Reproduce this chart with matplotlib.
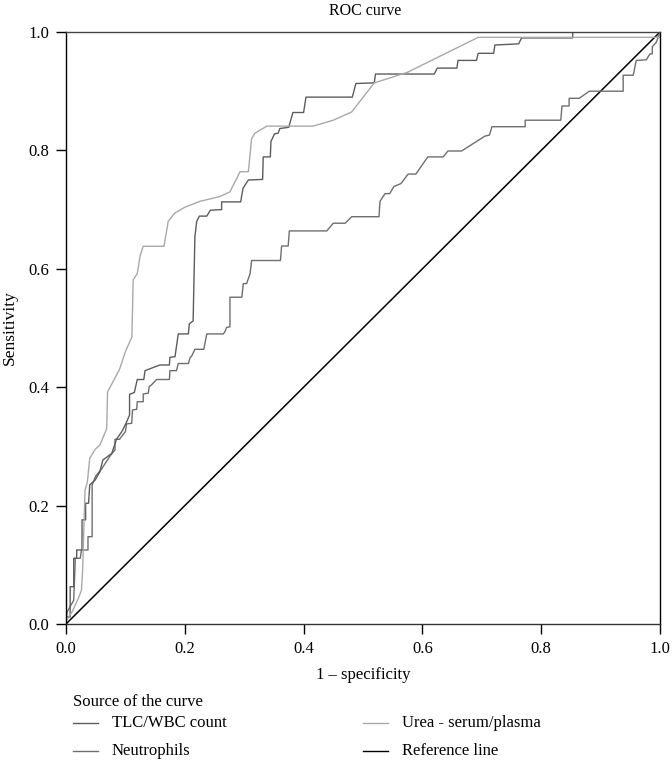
import matplotlib
matplotlib.use("Agg")
import matplotlib.pyplot as plt
from matplotlib.lines import Line2D

plt.rcParams["font.family"] = ["Liberation Serif", "DejaVu Serif"]

# ROC curve vertices
tlc_fpr = [0, 0, 0.007, 0.007, 0.013, 0.013, 0.018, 0.018, 0.027, 0.027, 0.033, 0.033, 0.038, 0.040,
           0.049, 0.057, 0.062, 0.077, 0.085, 0.094, 0.101, 0.107, 0.107, 0.115, 0.120, 0.131, 0.133,
           0.158, 0.174, 0.175, 0.1835, 0.189, 0.206, 0.2076, 0.214, 0.217, 0.220, 0.2245, 0.237, 0.243,
           0.262, 0.262, 0.294, 0.298, 0.307, 0.331, 0.332, 0.344, 0.345, 0.351, 0.357, 0.360, 0.375,
           0.382, 0.400, 0.404, 0.482, 0.488, 0.519, 0.521, 0.620, 0.625, 0.658, 0.660, 0.691, 0.694,
           0.720, 0.722, 0.762, 0.767, 0.853, 0.853, 1.0]
tlc_tpr = [0, 0.012, 0.012, 0.063, 0.063, 0.111, 0.111, 0.125, 0.125, 0.176, 0.176, 0.204, 0.204, 0.235,
           0.243, 0.257, 0.277, 0.288, 0.312, 0.325, 0.339, 0.353, 0.388, 0.391, 0.413, 0.413, 0.428,
           0.4375, 0.4375, 0.4505, 0.4515, 0.49, 0.49, 0.507, 0.512, 0.654, 0.68, 0.689, 0.689, 0.699,
           0.700, 0.713, 0.713, 0.736, 0.750, 0.751, 0.789, 0.789, 0.815, 0.828, 0.829, 0.837, 0.839,
           0.864, 0.864, 0.89, 0.89, 0.913, 0.914, 0.929, 0.929, 0.939, 0.939, 0.952, 0.952, 0.964,
           0.964, 0.978, 0.98, 0.99, 0.99, 1.0, 1.0]

neu_fpr = [0, 0.0017, 0.013, 0.0157, 0.024, 0.026, 0.037, 0.037, 0.044, 0.044, 0.050, 0.060, 0.075,
           0.0825, 0.0825, 0.090, 0.100, 0.102, 0.1106, 0.112, 0.119, 0.120, 0.130, 0.130, 0.1386, 0.140,
           0.144, 0.1526, 0.174, 0.175, 0.186, 0.189, 0.206, 0.209, 0.2115, 0.217, 0.232, 0.237, 0.265,
           0.2677, 0.2705, 0.276, 0.276, 0.296, 0.2985, 0.304, 0.310, 0.3125, 0.361, 0.363, 0.374, 0.376,
           0.439, 0.450, 0.470, 0.481, 0.527, 0.5286, 0.537, 0.545, 0.552, 0.564, 0.576, 0.589, 0.609,
           0.635, 0.643, 0.666, 0.705, 0.713, 0.717, 0.773, 0.773, 0.833, 0.835, 0.847, 0.847, 0.864,
           0.881, 0.938, 0.938, 0.955, 0.960, 0.977, 0.983, 0.987, 0.987, 0.994, 1.0]
neu_tpr = [0, 0.02, 0.04, 0.111, 0.111, 0.125, 0.125, 0.1475, 0.1475, 0.235, 0.25, 0.262, 0.285,
           0.294, 0.312, 0.312, 0.325, 0.338, 0.339, 0.3615, 0.3627, 0.3755, 0.3755, 0.3885, 0.39, 0.401,
           0.404, 0.413, 0.413, 0.428, 0.428, 0.44, 0.44, 0.45, 0.4525, 0.464, 0.464, 0.49, 0.49,
           0.494, 0.501, 0.502, 0.552, 0.552, 0.575, 0.575, 0.592, 0.614, 0.614, 0.6385, 0.6385, 0.664,
           0.664, 0.677, 0.677, 0.688, 0.688, 0.714, 0.727, 0.727, 0.739, 0.744, 0.76, 0.76, 0.789,
           0.789, 0.799, 0.799, 0.824, 0.826, 0.84, 0.84, 0.851, 0.851, 0.875, 0.875, 0.888, 0.888,
           0.9, 0.9, 0.927, 0.927, 0.952, 0.953, 0.963, 0.963, 0.975, 0.983, 1.0]

urea_fpr = [0, 0.001, 0.010, 0.0207, 0.026, 0.028, 0.032, 0.036, 0.040, 0.049, 0.057, 0.0685, 0.070,
            0.090, 0.100, 0.111, 0.113, 0.120, 0.125, 0.130, 0.165, 0.172, 0.183, 0.200, 0.2256, 0.259,
            0.276, 0.293, 0.307, 0.3125, 0.318, 0.338, 0.416, 0.450, 0.481, 0.519, 0.575, 0.694, 1.0, 1.0]
urea_tpr = [0, 0.007, 0.02, 0.043, 0.057, 0.091, 0.226, 0.24, 0.28, 0.295, 0.302, 0.33, 0.392,
            0.43, 0.46, 0.485, 0.581, 0.592, 0.623, 0.638, 0.638, 0.68, 0.694, 0.704, 0.714, 0.722,
            0.730, 0.764, 0.764, 0.820, 0.829, 0.841, 0.841, 0.851, 0.865, 0.914, 0.932, 0.991, 0.991, 1.0]

ref_line = [0, 1]
ticks = [0.0, 0.2, 0.4, 0.6, 0.8, 1.0]
labels = ["TLC/WBC count", "Neutrophils", "Urea - serum/plasma", "Reference line"]
colors = {"TLC/WBC count": "#5c5c5c", "Neutrophils": "#6e6e6e",
          "Urea - serum/plasma": "#a9a9a9", "Reference line": "#000000"}

W, H = 672, 761
fig = plt.figure(figsize=(W / 100, H / 100), dpi=100)
ax = fig.add_axes([66 / W, 1 - 624 / H, 594 / W, 592 / H])

ax.plot(ref_line, ref_line, color=colors["Reference line"], lw=1.1)
ax.plot(neu_fpr, neu_tpr, color=colors["Neutrophils"], lw=1.0)
ax.plot(tlc_fpr, tlc_tpr, color=colors["TLC/WBC count"], lw=1.0)
ax.plot(urea_fpr, urea_tpr, color=colors["Urea - serum/plasma"], lw=1.0)

ax.set_xlim(0, 1); ax.set_ylim(0, 1)
ax.set_xticks(ticks, [f"{t:.1f}" for t in ticks])
ax.set_yticks(ticks, [f"{t:.1f}" for t in ticks])
ax.tick_params(direction="out", length=7, width=1, labelsize=12, color="black", pad=5)
for side in ["left", "right"]:
    ax.spines[side].set_color("black")
ax.spines["top"].set_color("#444444"); ax.spines["bottom"].set_color("#333333")
for s in ax.spines.values():
    s.set_linewidth(1.0)

fig.text(365 / W, 1 - 11 / H, "ROC curve", ha="center", va="center", fontsize=11.5)
fig.text(10 / W, 1 - 328 / H, "Sensitivity", rotation=90, ha="center", va="center", fontsize=12.5)
fig.text(363 / W, 1 - 675 / H, "1 \u2013 specificity", ha="center", va="center", fontsize=12)

# legend drawn by hand below the axes
fig.text(73 / W, 1 - 702 / H, "Source of the curve", ha="left", va="center", fontsize=12)
rows = [(labels[0], 73, 723), (labels[1], 73, 751), (labels[2], 363, 723), (labels[3], 363, 751)]
for name, x0, y0 in rows:
    fig.add_artist(Line2D([x0 / W, (x0 + 25) / W], [1 - y0 / H, 1 - y0 / H],
                          color=colors[name], lw=1.0, transform=fig.transFigure))
    fig.text((x0 + 39) / W, 1 - y0 / H, name, ha="left", va="center", fontsize=12)

fig.savefig("out.png", dpi=100)
